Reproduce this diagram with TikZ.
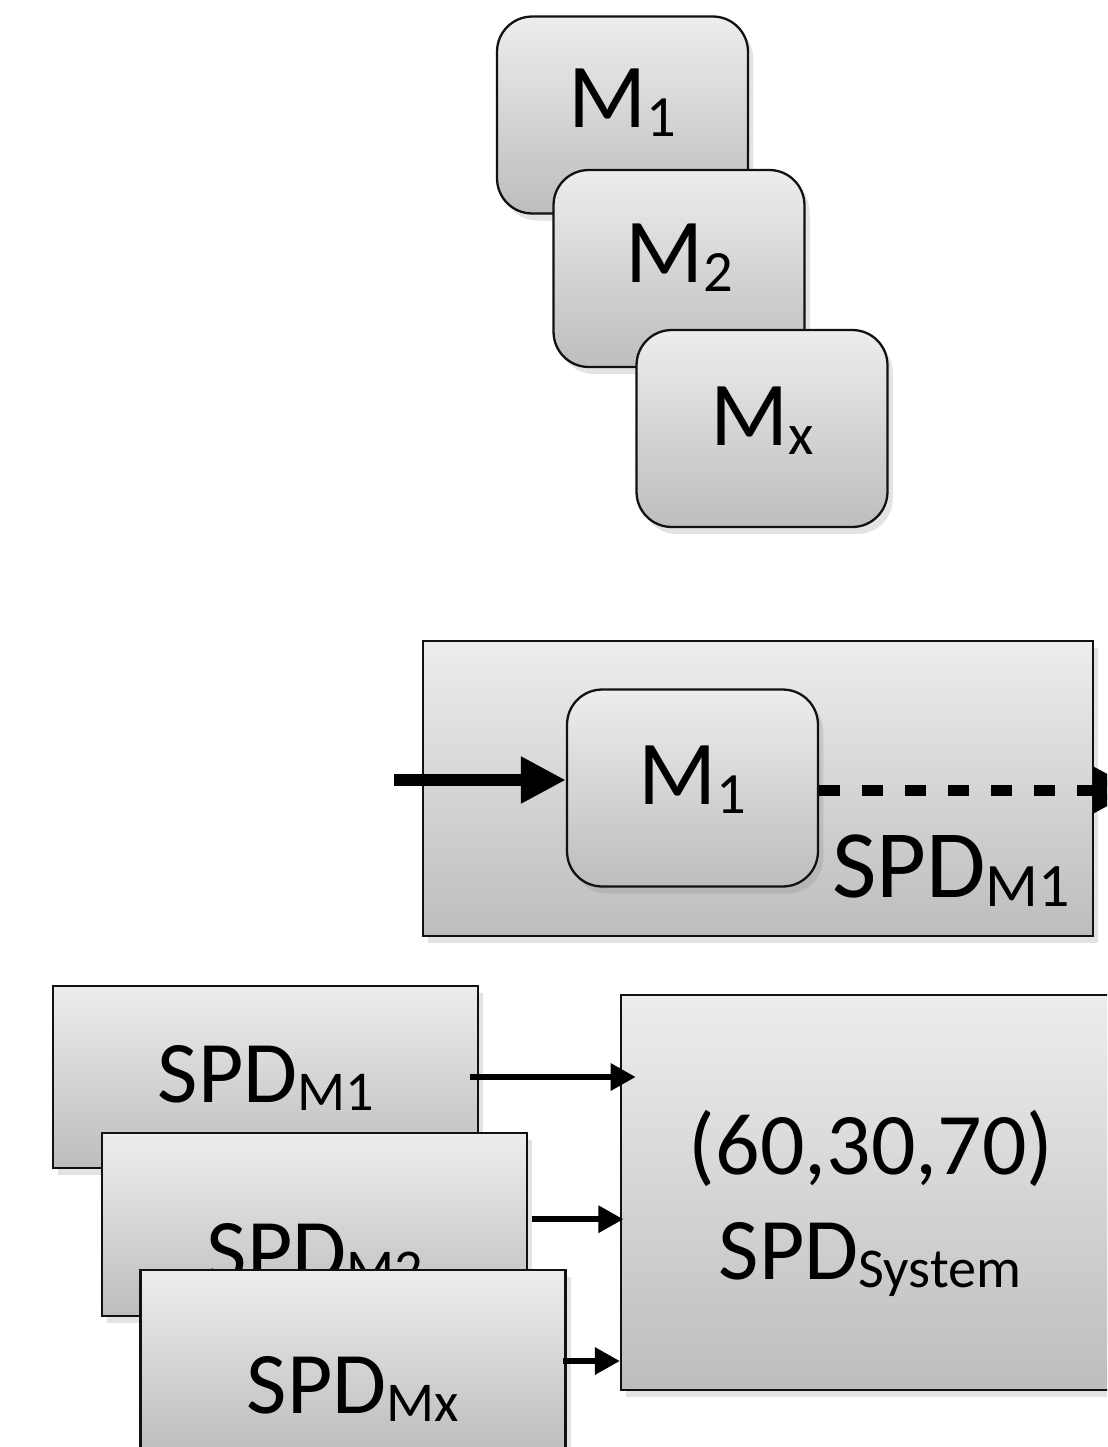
\documentclass[tikz,border=0pt]{standalone}
\usepackage{fontspec}
\setmainfont{Carlito}
\usetikzlibrary{arrows.meta, positioning, shadows}
\definecolor{boxTop}{HTML}{EDEDED}
\definecolor{boxBottom}{HTML}{BDBDBD}
\definecolor{boxLine}{HTML}{111111}
\newcommand{\lowsub}[1]{\raisebox{-0.1em}{\scalebox{0.64}{#1}}}

\begin{document}
\begin{tikzpicture}[
  x=0.02cm, y=-0.02cm,
  shadebox/.style={draw=boxLine, line width=1.3pt, top color=boxTop, bottom color=boxBottom,
    drop shadow={opacity=0.22, shadow xshift=3pt, shadow yshift=-4pt}},
  modbox/.style={shadebox, rounded corners=20pt, minimum width=5.02cm, minimum height=3.94cm},
  spdbox/.style={shadebox, minimum width=8.5cm, minimum height=3.65cm},
  mtext/.style={anchor=base, inner sep=0pt, font=\fontsize{52}{52}\selectfont},
  spdtext/.style={anchor=base, inner sep=0pt, font=\fontsize{50}{50}\selectfont},
  bigtext/.style={anchor=base, inner sep=0pt, font=\fontsize{55}{55}\selectfont},
  flow/.style={-{Triangle[length=0.9cm, width=0.88cm]}, line width=0.24cm},
  flowdash/.style={flow, line width=0.22cm, dash pattern=on 0.42cm off 0.44cm},
  feed/.style={-{Triangle[length=0.5cm, width=0.52cm]}, line width=0.12cm}
]

\path[use as bounding box] (0,0) rectangle (1107,1447);
\clip (0,0) rectangle (1107,1447);

% =========================================================
% STACK OF MODULES
% =========================================================

\node[modbox] (m1) at (622.5,115) {};
\node[mtext] (m1_lab) at (622,127) {M\lowsub{1}};

\node[modbox] (m2) at (679,268.5) {};
\node[mtext] (m2_lab) at (679,282) {M\lowsub{2}};

\node[modbox] (mx) at (762,428.5) {};
\node[mtext] (mx_lab) at (762,445) {M\lowsub{x}};

% =========================================================
% SINGLE MODULE PANEL
% =========================================================

\node[shadebox, minimum width=13.4cm, minimum height=5.9cm] (panel) at (758,788.5) {};

\node[modbox] (inm) at (692.5,788) {};
\node[mtext] (inm_lab) at (692,804) {M\lowsub{1}};

\node[bigtext] (panel_lab) at (951,897) {SPD\lowsub{M1}};

% input and output
\coordinate (inStart) at (394,780);
\draw[flow] (inStart) -- (inStart -| inm.west);

\coordinate (outEnd) at (1138,790);
\draw[flowdash] (inm.east |- outEnd) -- (outEnd);

% =========================================================
% SPD STACK AND SYSTEM
% =========================================================

\node[spdbox] (spdA) at (265.5,1077) {};
\node[spdtext] (spdA_lab) at (266,1102) {SPD\lowsub{M1}};

\node[spdbox] (spdB) at (314.5,1224.5) {};
\node[spdtext] (spdB_lab) at (315,1280) {SPD\lowsub{M2}};

\node[spdbox] (spdC) at (353,1361) {};
\node[spdtext] (spdC_lab) at (353,1413) {SPD\lowsub{Mx}};

\node[shadebox, minimum width=10cm, minimum height=7.9cm] (sys) at (871,1192.5) {};
\node[spdtext] (sys_val) at (871,1174) {(60,30,70)};
\node[spdtext] (sys_lab) at (870,1279) {SPD\lowsub{System}};

% feeds into the system
\draw[feed] ([xshift=-5pt]spdA.east) -- ([xshift=9pt]spdA.east -| sys.west);
\draw[feed] ([xshift=2pt, yshift=3pt]spdB.east) -- ([xshift=2pt, yshift=3pt]spdB.east -| sys.west);
\draw[feed] ([xshift=-2pt]spdC.east) -- (spdC.east -| sys.west);

\end{tikzpicture}
\end{document}
